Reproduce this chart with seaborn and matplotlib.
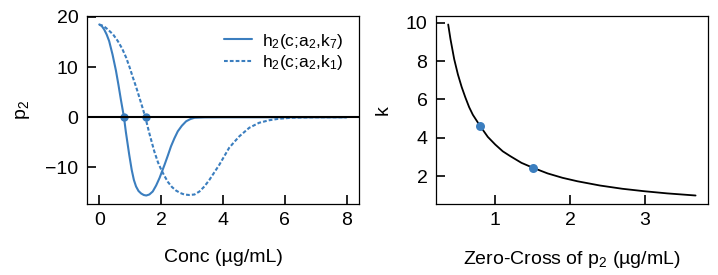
import seaborn as sns
import matplotlib.pyplot as plt
import pandas as pd
import numpy as np

# values
conc_k7 = [0, 0.08, 0.16, 0.24, 0.32, 0.43, 0.54, 0.62, 0.70, 0.80, 0.86, 0.97,
           1.05, 1.12, 1.19, 1.27, 1.355, 1.44, 1.52, 1.62, 1.73, 1.84, 1.95, 2.11, 2.22,
           2.32, 2.43, 2.54, 2.67, 2.81, 2.95, 3.08, 3.4, 4.0, 5.0, 6.0, 7.0, 8.0]
p2_k7 = [18.5, 18.2, 17.5, 16.5, 15.2, 12.5, 9.3, 6.5, 3.5, 0.0, -2.9, -7.5,
         -10.5, -12.5, -13.8, -14.7, -15.2, -15.5, -15.6, -15.4, -14.8, -13.6, -12.1, -9.5, -7.6,
         -5.8, -4.2, -2.8, -1.7, -0.8, -0.35, -0.1, -0.02, 0, 0, 0, 0, 0]

conc_k1 = [0, 0.14, 0.28, 0.45, 0.6, 0.74, 0.87, 0.98, 1.09, 1.2, 1.3, 1.4, 1.49,
           1.62, 1.78, 1.9, 2.0, 2.1, 2.22, 2.35, 2.48, 2.62, 2.75, 2.91, 3.08, 3.24, 3.4,
           3.56, 3.72, 3.88, 4.04, 4.2, 4.37, 4.53, 4.85, 5.17, 5.49, 5.8, 6.2, 7.0, 8.0]
p2_k1 = [18.5, 18.2, 17.5, 16.5, 15.2, 13.7, 11.9, 10.0, 7.9, 5.9, 3.9, 1.9, 0.0,
         -3.2, -6.8, -9.0, -10.4, -11.6, -12.9, -13.9, -14.6, -15.1, -15.4, -15.5, -15.4, -14.8, -13.8,
         -12.5, -11.0, -9.5, -7.8, -6.1, -4.9, -3.8, -2.1, -1.1, -0.6, -0.3, -0.1, 0, 0]

zero_cross = [0.8, 1.5]
zero_p2 = [0, 0]
k_at_cross = [4.6, 2.45]

zc_curve = [0.37, 0.40, 0.45, 0.50, 0.55, 0.60, 0.65, 0.70, 0.80, 0.90, 1.0, 1.1, 1.2,
            1.35, 1.5, 1.7, 1.9, 2.1, 2.4, 2.7, 3.0, 3.3, 3.68]
k_curve = [9.9, 9.15, 8.1, 7.3, 6.65, 6.1, 5.6, 5.2, 4.6, 4.05, 3.65, 3.3, 3.05,
           2.7, 2.45, 2.15, 1.92, 1.74, 1.52, 1.35, 1.22, 1.11, 1.0]

blue = '#3b7ebf'

sns.set_style("ticks")
plt.rcParams['font.family'] = ['Liberation Sans', 'DejaVu Sans']
plt.rcParams['mathtext.fontset'] = 'custom'
plt.rcParams['mathtext.rm'] = 'Liberation Sans'
plt.rcParams['mathtext.it'] = 'Liberation Sans'
plt.rcParams['mathtext.default'] = 'regular'
for key in ['text.color', 'axes.labelcolor', 'xtick.color', 'ytick.color', 'axes.edgecolor']:
    plt.rcParams[key] = 'black'

fig = plt.figure(figsize=(7.18, 2.75), dpi=100)
ax1 = fig.add_axes([0.121, 0.258, 0.379, 0.684])
ax2 = fig.add_axes([0.607, 0.258, 0.379, 0.684])

df7 = pd.DataFrame({'c': conc_k7, 'p2': p2_k7})
df1 = pd.DataFrame({'c': conc_k1, 'p2': p2_k1})

sns.lineplot(data=df7, x='c', y='p2', color=blue, lw=1.5, ax=ax1,
             label='h$_2$(c;a$_2$,k$_7$)')
sns.lineplot(data=df1, x='c', y='p2', color=blue, lw=1.5, ax=ax1,
             label='h$_2$(c;a$_2$,k$_1$)')
ax1.lines[-1].set_dashes((1.8, 1))
ax1.axhline(0, color='black', lw=1.5, zorder=4)
sns.scatterplot(x=zero_cross, y=zero_p2, color=blue, s=36, linewidth=0, ax=ax1, zorder=3)

ax1.set_xticks([0, 2, 4, 6, 8])
ax1.set_yticks([-10, 0, 10, 20])
ax1.set_xlabel('Conc (µg/mL)', fontsize=14, labelpad=14)
ax1.set_ylabel('p$_2$', fontsize=14, labelpad=10)
ax1.legend(loc='upper right', frameon=False, fontsize=12.5, handlelength=1.6,
           handletextpad=0.6, labelspacing=0.15)

dfk = pd.DataFrame({'zc': zc_curve, 'k': k_curve})
sns.lineplot(data=dfk, x='zc', y='k', color='black', lw=1.3, ax=ax2)
sns.scatterplot(x=zero_cross, y=k_at_cross, color=blue, s=42, linewidth=0, ax=ax2, zorder=3)
ax2.set_xticks([1, 2, 3])
ax2.set_yticks([2, 4, 6, 8, 10])
ax2.set_xlabel('Zero-Cross of p$_2$ (µg/mL)', fontsize=14, labelpad=14)
ax2.set_ylabel('k', fontsize=14, labelpad=10)

for ax in (ax1, ax2):
    ax.tick_params(direction='in', length=6.5, width=1.2, labelsize=14, pad=6)
    for s in ax.spines.values():
        s.set_linewidth(0.9)
        s.set_visible(True)

fig.savefig("out.png", dpi=100)
